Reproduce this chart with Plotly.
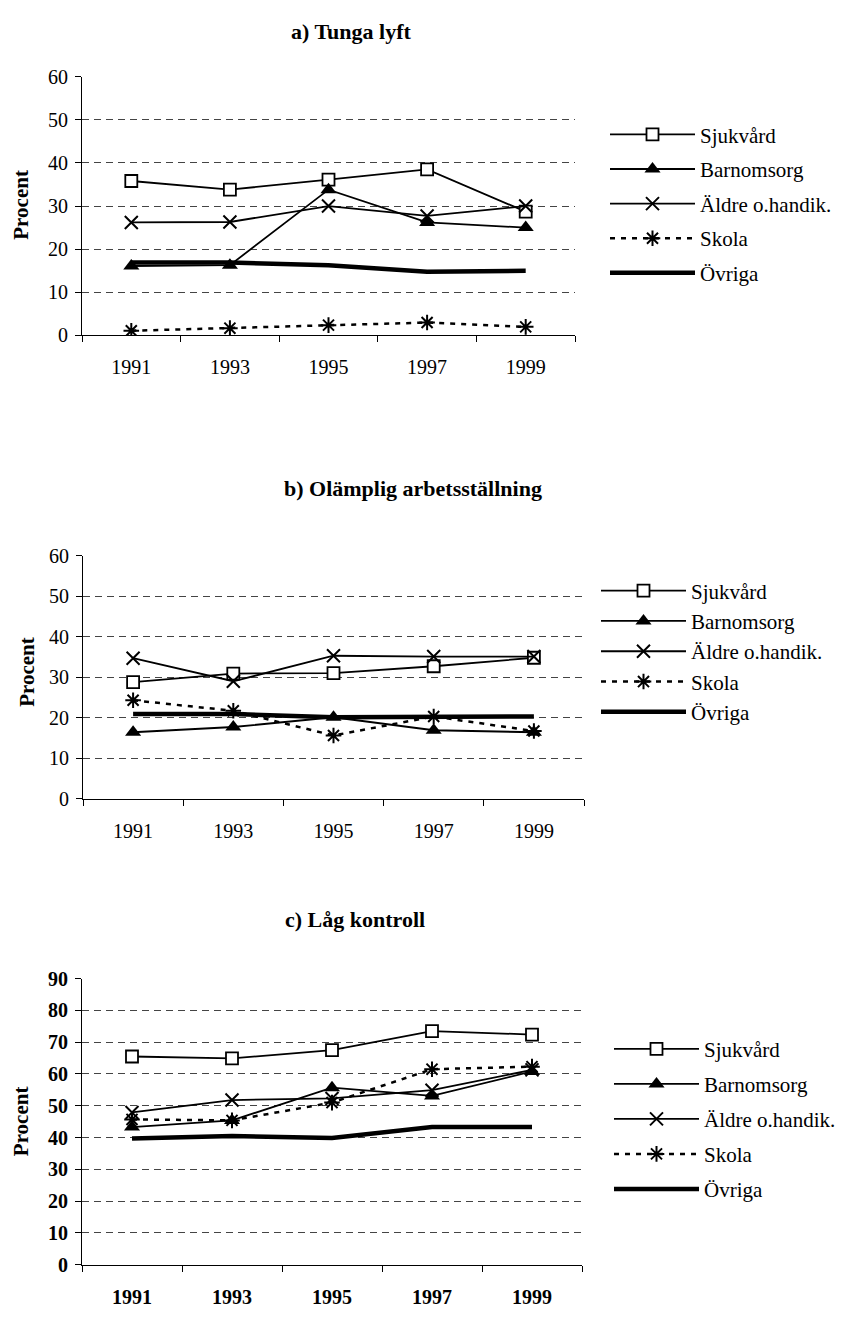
import plotly.graph_objects as go

W, H = 845, 1319
FONT = "Liberation Serif"

years = ["1991", "1993", "1995", "1997", "1999"]
series_names = ["Sjukvård", "Barnomsorg", "Äldre o.handik.", "Skola", "Övriga"]

# a) Tunga lyft
a_sjukvard = [35.8, 33.8, 36.1, 38.5, 28.7]
a_barnomsorg = [16.1, 16.3, 33.8, 26.2, 25.0]
a_aldre = [26.2, 26.3, 30.0, 27.7, 30.0]
a_skola = [1.1, 1.7, 2.4, 3.0, 2.0]
a_ovriga = [16.9, 16.9, 16.3, 14.8, 15.0]

# b) Olämplig arbetsställning
b_sjukvard = [28.8, 30.9, 31.0, 32.7, 34.8]
b_barnomsorg = [16.4, 17.7, 20.1, 16.9, 16.4]
b_aldre = [34.7, 29.0, 35.3, 35.1, 35.1]
b_skola = [24.3, 21.7, 15.6, 20.3, 16.7]
b_ovriga = [20.9, 20.9, 20.1, 20.3, 20.3]

# c) Låg kontroll
c_sjukvard = [65.5, 64.9, 67.5, 73.5, 72.4]
c_barnomsorg = [43.3, 45.4, 55.7, 53.1, 60.8]
c_aldre = [47.9, 51.8, 52.3, 54.9, 61.3]
c_skola = [45.7, 45.4, 51.0, 61.5, 62.3]
c_ovriga = [39.7, 40.5, 39.9, 43.3, 43.3]

titles = ["a) Tunga lyft", "b) Olämplig arbetsställning", "c) Låg kontroll"]
y_label = "Procent"


def fx(px):
    return px / W


def fy(py):
    return 1 - py / H


styles = [
    dict(mode="lines+markers", line=dict(color="black", width=1.8),
         marker=dict(symbol="square", size=12, color="white", line=dict(color="black", width=1.8))),
    dict(mode="lines+markers", line=dict(color="black", width=1.8),
         marker=dict(symbol="triangle-up", size=14, color="black", line=dict(color="black", width=0))),
    dict(mode="lines+markers", line=dict(color="black", width=1.8),
         marker=dict(symbol="x-thin-open", size=13, color="black", line=dict(color="black", width=2))),
    dict(mode="lines+markers", line=dict(color="black", width=2.5, dash="5px,6px"),
         marker=dict(symbol="asterisk-open", size=13, color="black", line=dict(color="black", width=2))),
    dict(mode="lines", line=dict(color="black", width=4.5)),
]

panels = [
    dict(data=[a_sjukvard, a_barnomsorg, a_aldre, a_skola, a_ovriga],
         xd=(82, 575), yd=(66.7, 330), ymax=60, bold=False,
         title_xy=(351, 21), ylab_xy=(21, 197),
         legend=dict(x=605, y=105, gap=4.3)),
    dict(data=[b_sjukvard, b_barnomsorg, b_aldre, b_skola, b_ovriga],
         xd=(83, 584), yd=(554, 801), ymax=60, bold=False,
         title_xy=(413, 486), ylab_xy=(27, 672),
         legend=dict(x=596, y=569, gap=0)),
    dict(data=[c_sjukvard, c_barnomsorg, c_aldre, c_skola, c_ovriga],
         xd=(82, 582), yd=(984, 1275), ymax=90, bold=True,
         title_xy=(355, 924), ylab_xy=(21, 1129),
         legend=dict(x=609, y=1035, gap=4.7)),
]

fig = go.Figure()
annotations = []
layout = {}

for i, p in enumerate(panels):
    sfx = "" if i == 0 else str(i + 1)
    xname, yname = "x" + sfx, "y" + sfx
    lname = "legend" + sfx
    for name, vals, st in zip(series_names, p["data"], styles):
        fig.add_trace(go.Scatter(
            x=years, y=vals, name=name, xaxis=xname, yaxis=yname,
            legend=lname, legendgroup=f"{lname}_{name}", **st))
    weight = "bold" if p["bold"] else "normal"
    tickfont = dict(family=FONT, size=20, color="black", weight=weight)
    layout["xaxis" + sfx] = dict(
        domain=[fx(p["xd"][0]), fx(p["xd"][1])], anchor=yname,
        type="category", categoryorder="array", categoryarray=years,
        range=[-0.5, 4.5], tickson="boundaries", ticks="outside", ticklen=6,
        tickcolor="black", showline=True, linecolor="black", linewidth=1,
        showgrid=False, zeroline=False, tickfont=tickfont, ticklabelstandoff=14,
        fixedrange=True)
    layout["yaxis" + sfx] = dict(
        domain=[fy(p["yd"][1]), fy(p["yd"][0])], anchor=xname,
        range=[0, p["ymax"]], dtick=10, tick0=0, ticks="outside", ticklen=6,
        tickcolor="black", showline=True, linecolor="black", linewidth=1,
        showgrid=True, gridcolor="#444", gridwidth=1, griddash="7px,5px",
        zeroline=False, tickfont=tickfont, ticklabelstandoff=3, fixedrange=True)
    layout[lname] = dict(
        x=fx(p["legend"]["x"]), y=fy(p["legend"]["y"]), xanchor="left", yanchor="top",
        font=dict(family=FONT, size=21, color="black"), bgcolor="rgba(0,0,0,0)",
        itemwidth=85, traceorder="grouped", tracegroupgap=p["legend"]["gap"],
        itemclick=False, itemdoubleclick=False)
    annotations.append(dict(
        text=f"<b>{titles[i]}</b>", x=fx(p["title_xy"][0]), y=fy(p["title_xy"][1]),
        xref="paper", yref="paper", xanchor="center", yanchor="middle", showarrow=False,
        font=dict(family=FONT, size=22, color="black")))
    annotations.append(dict(
        text=f"<b>{y_label}</b>", x=fx(p["ylab_xy"][0]), y=fy(p["ylab_xy"][1]),
        xref="paper", yref="paper", xanchor="center", yanchor="middle", showarrow=False,
        textangle=-90, font=dict(family=FONT, size=21, color="black")))

fig.update_layout(
    width=W, height=H, margin=dict(l=0, r=0, t=0, b=0),
    paper_bgcolor="white", plot_bgcolor="white",
    showlegend=True, annotations=annotations, **layout)

fig.write_html("out.html")
